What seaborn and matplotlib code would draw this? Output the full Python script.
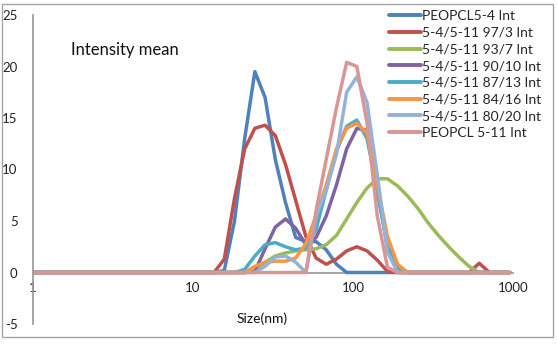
import matplotlib
matplotlib.use("Agg")
import matplotlib.pyplot as plt
from matplotlib.patches import Rectangle
from matplotlib.lines import Line2D
import seaborn as sns
import pandas as pd
import numpy as np

# Size bins (nm)
sizes = [0.9649, 1.117, 1.294, 1.499, 1.736, 2.010, 2.328, 2.696, 3.122, 3.615,
         4.187, 4.849, 5.615, 6.503, 7.531, 8.721, 10.10, 11.70, 13.54, 15.69,
         18.17, 21.04, 24.36, 28.21, 32.67, 37.84, 43.82, 50.75, 58.77, 68.06,
         78.82, 91.28, 105.7, 122.4, 141.8, 164.2, 190.1, 220.2, 255.0, 295.3,
         342.0, 396.1, 458.7, 531.2, 615.1, 712.4, 825.0, 955.4]

peopcl54 = [0, 0, 0, 0, 0, 0, 0, 0, 0, 0,
            0, 0, 0, 0, 0, 0, 0, 0, 0, 0.2,
            5.0, 13.0, 19.5, 17.0, 11.0, 6.8, 3.4, 3.0, 3.0, 2.2,
            0.8, 0, 0, 0, 0, 0, 0, 0, 0, 0,
            0, 0, 0, 0, 0, 0, 0, 0]
mix_97_3 = [0, 0, 0, 0, 0, 0, 0, 0, 0, 0,
            0, 0, 0, 0, 0, 0, 0, 0, 0.0, 1.3,
            7.2, 12.0, 14.0, 14.3, 13.3, 10.5, 7.0, 3.5, 1.4, 0.8,
            1.3, 2.1, 2.5, 2.1, 1.2, 0.1, 0, 0, 0, 0,
            0, 0, 0, 0, 0.9, 0, 0, 0]
mix_93_7 = [0, 0, 0, 0, 0, 0, 0, 0, 0, 0,
            0, 0, 0, 0, 0, 0, 0, 0, 0, 0,
            0, 0, 0.1, 1.0, 1.6, 1.9, 2.1, 2.2, 2.3, 2.7,
            3.6, 5.2, 6.8, 8.2, 9.1, 9.1, 8.4, 7.4, 6.2, 4.8,
            3.6, 2.5, 1.5, 0.6, 0, 0, 0, 0]
mix_90_10 = [0, 0, 0, 0, 0, 0, 0, 0, 0, 0,
             0, 0, 0, 0, 0, 0, 0, 0, 0, 0,
             0, 0, 0.1, 2.3, 4.4, 5.2, 4.3, 2.7, 3.4, 5.5,
             8.5, 12.0, 14.0, 13.8, 8.0, 2.5, 0.3, 0, 0, 0,
             0, 0, 0, 0, 0, 0, 0, 0]
mix_87_13 = [0, 0, 0, 0, 0, 0, 0, 0, 0, 0,
             0, 0, 0, 0, 0, 0, 0, 0, 0, 0,
             0, 0.3, 1.6, 2.7, 2.9, 2.5, 2.2, 2.4, 4.2, 8.0,
             11.8, 14.2, 14.8, 13.0, 8.0, 2.5, 0.3, 0, 0, 0,
             0, 0, 0, 0, 0, 0, 0, 0]
mix_84_16 = [0, 0, 0, 0, 0, 0, 0, 0, 0, 0,
             0, 0, 0, 0, 0, 0, 0, 0, 0, 0,
             0, 0, 0.6, 1.0, 1.1, 1.1, 1.4, 2.8, 5.5, 8.5,
             12.0, 14.0, 14.5, 13.5, 8.5, 3.5, 0.8, 0, 0, 0,
             0, 0, 0, 0, 0, 0, 0, 0]
mix_80_20 = [0, 0, 0, 0, 0, 0, 0, 0, 0, 0,
             0, 0, 0, 0, 0, 0, 0, 0, 0, 0,
             0, 0, 0, 0.6, 1.5, 1.6, 1.0, 0, 5.5, 8.0,
             11.5, 17.5, 19.0, 16.5, 9.5, 2.0, 0, 0, 0, 0,
             0, 0, 0, 0, 0, 0, 0, 0]
peopcl511 = [0, 0, 0, 0, 0, 0, 0, 0, 0, 0,
             0, 0, 0, 0, 0, 0, 0, 0, 0, 0,
             0, 0, 0, 0, 0, 0, 0, 0, 6.0, 11.0,
             16.0, 20.4, 20.0, 14.5, 5.5, 0.5, 0, 0, 0, 0,
             0, 0, 0, 0, 0, 0, 0, 0]

series_names = ["PEOPCL5-4 Int", "5-4/5-11 97/3 Int", "5-4/5-11 93/7 Int",
                "5-4/5-11 90/10 Int", "5-4/5-11 87/13 Int", "5-4/5-11 84/16 Int",
                "5-4/5-11 80/20 Int", "PEOPCL 5-11 Int"]
series_values = [peopcl54, mix_97_3, mix_93_7, mix_90_10, mix_87_13,
                 mix_84_16, mix_80_20, peopcl511]
colors = ["#4F81BD", "#C0504D", "#9BBB59", "#8064A2", "#4BACC6",
          "#F79646", "#95B3D7", "#D99694"]

x_ticks = [1, 10, 100, 1000]
x_tick_labels = ["1", "10", "100", "1000"]
y_ticks = [-5, 0, 5, 10, 15, 20, 25]

rows = []
for name, vals in zip(series_names, series_values):
    for s, v in zip(sizes, vals):
        rows.append({"size": s, "value": v, "series": name})
df = pd.DataFrame(rows)

sns.set_theme(style="white")
plt.rcParams["font.family"] = ["Lato", "DejaVu Sans"]

fig = plt.figure(figsize=(5.57, 3.56), dpi=100)
fig.patch.set_facecolor("white")
ax = fig.add_axes([33 / 557, 1 - 324 / 356, (513 - 33) / 557, (324 - 15) / 356])

sns.lineplot(data=df, x="size", y="value", hue="series", hue_order=series_names,
             palette=colors, linewidth=2.5, estimator=None, sort=True,
             legend=False, ax=ax)
for ln in ax.get_lines():
    ln.set_solid_joinstyle("round")
    ln.set_solid_capstyle("round")

ax.set_xscale("log")
ax.set_xlim(1, 1000)
ax.set_ylim(-5, 25)
ax.set_xticks(x_ticks)
ax.set_xticklabels(x_tick_labels)
ax.minorticks_off()
ax.set_yticks(y_ticks)
ax.set_yticklabels([str(t) for t in y_ticks])
ax.set_xlabel("")
ax.set_ylabel("")

for side in ["top", "right"]:
    ax.spines[side].set_visible(False)
ax.spines["bottom"].set_position(("data", 0))
ax.spines["bottom"].set_color("#9A9A9A")
ax.spines["left"].set_color("#9A9A9A")
ax.spines["bottom"].set_zorder(0.5)
ax.tick_params(axis="both", which="both", labelsize=9.5, colors="#9A9A9A",
               labelcolor="#222222", length=4, width=0.8, direction="out")
ax.tick_params(axis="x", pad=3)
ax.tick_params(axis="y", pad=7)
ax.set_facecolor("white")

handles = [Line2D([0], [0], color=c, lw=2.8) for c in colors]
fig.legend(handles, series_names, loc="upper left",
           bbox_to_anchor=(389 / 557, 1 - 10 / 356), frameon=False,
           fontsize=10, handlelength=2.3, handletextpad=0.1,
           labelspacing=0.34, borderpad=0, borderaxespad=0)

fig.text(71 / 557, 1 - 50 / 356, "Intensity mean", fontsize=12,
         ha="left", va="center", color="#111111")
fig.text(262 / 557, 1 - 319 / 356, "Size(nm)", fontsize=10,
         ha="center", va="center", color="#111111")

fig.add_artist(Rectangle((2 / 557, 1 - 337 / 356), 551 / 557, 333 / 356,
                         transform=fig.transFigure, fill=False,
                         edgecolor="#A6A6A6", lw=1.0))

fig.savefig("out.png", dpi=100, facecolor="white")
